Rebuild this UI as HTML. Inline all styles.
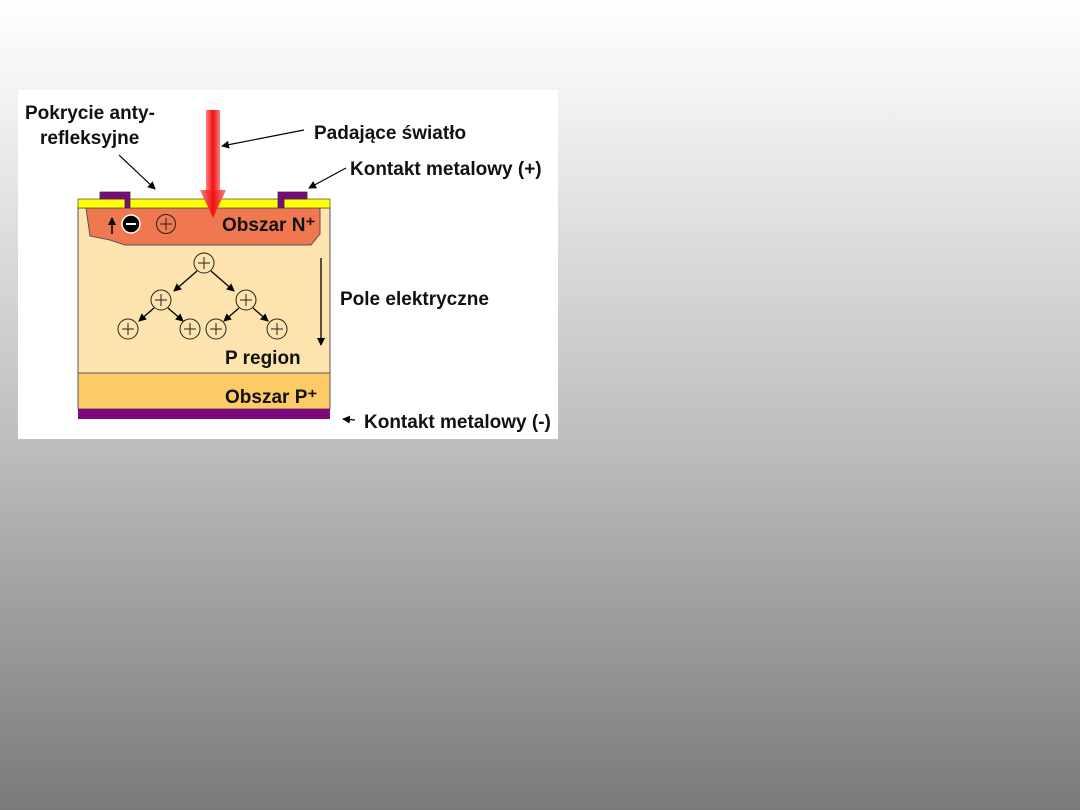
<!DOCTYPE html>
<html><head><meta charset="utf-8"><style>
html,body{margin:0;padding:0;}
body{width:1080px;height:810px;background:linear-gradient(#ffffff 0%,#f2f2f2 12%,#bdbdbd 55%,#7a7a7a 100%);overflow:hidden;}
svg{position:absolute;left:0;top:0;}
text{font-family:"Liberation Sans",Arial,sans-serif;font-weight:bold;fill:#111;}
</style></head><body>
<svg width="1080" height="810" viewBox="0 0 1080 810">
<defs>
<marker id="ah" markerWidth="8" markerHeight="8" refX="7" refY="4" orient="auto" markerUnits="userSpaceOnUse"><path d="M0,0 L8,4 L0,8 z" fill="#000"/></marker>
<linearGradient id="red" x1="0" x2="1"><stop offset="0" stop-color="#ff8080"/><stop offset="0.5" stop-color="#ee1111"/><stop offset="1" stop-color="#ff8080"/></linearGradient>
</defs>
<rect x="18" y="90" width="540" height="349" fill="#fff"/>
<rect x="78" y="208" width="252" height="165" fill="#fde3ae" stroke="#555" stroke-width="1"/>
<rect x="78" y="373" width="252" height="36" fill="#fdcb66" stroke="#555" stroke-width="1"/>
<rect x="78" y="409" width="252" height="10" fill="#7d0a7d"/>
<path d="M86,208 L320,208 L320,234 L311,245 L125,245 L110,240 L90,236 Z" fill="#f07850" stroke="#555" stroke-width="1"/>
<rect x="78" y="199" width="252" height="9" fill="#ffff00" stroke="#555" stroke-width="0.8"/>
<path d="M100,192 L130,192 L130,208 L125,208 L125,199 L100,199 Z" fill="#7d0a7d" stroke="#333" stroke-width="0.8"/>
<path d="M278,192 L307,192 L307,199 L284,199 L284,208 L278,208 Z" fill="#7d0a7d" stroke="#333" stroke-width="0.8"/>
<rect x="206" y="110" width="14" height="82" fill="url(#red)"/>
<path d="M200,190 L226,190 L213,218 Z" fill="url(#red)"/>
<line x1="112" y1="234" x2="112" y2="218" stroke="#000" stroke-width="1.5" marker-end="url(#ah)"/>
<circle cx="131" cy="224" r="9" fill="#000" stroke="#fff" stroke-width="1.5"/>
<line x1="126" y1="224" x2="136" y2="224" stroke="#fff" stroke-width="2"/>
<circle cx="166" cy="224" r="9.5" fill="none" stroke="#222" stroke-width="1"/>
<path d="M160,224 h12 M166,218 v12" stroke="#222" stroke-width="1"/>
<text x="222" y="231" font-size="19">Obszar N⁺</text>
<g stroke="#000" stroke-width="1.3" marker-end="url(#ah)">
<line x1="197" y1="271" x2="174" y2="291"/>
<line x1="211" y1="271" x2="234" y2="291"/>
<line x1="154" y1="308" x2="139" y2="321"/>
<line x1="168" y1="308" x2="183" y2="321"/>
<line x1="239" y1="308" x2="224" y2="321"/>
<line x1="253" y1="308" x2="268" y2="321"/>
</g>
<g fill="#fde3ae" stroke="#222" stroke-width="1">
<circle cx="204" cy="263" r="10"/><circle cx="161" cy="300" r="10"/><circle cx="246" cy="300" r="10"/>
<circle cx="128" cy="329" r="10"/><circle cx="190" cy="329" r="10"/><circle cx="216" cy="329" r="10"/><circle cx="277" cy="329" r="10"/>
</g>
<path d="M198,263h12M204,257v12 M155,300h12M161,294v12 M240,300h12M246,294v12 M122,329h12M128,323v12 M184,329h12M190,323v12 M210,329h12M216,323v12 M271,329h12M277,323v12" stroke="#222" stroke-width="1"/>
<line x1="321" y1="258" x2="321" y2="345" stroke="#000" stroke-width="1.3" marker-end="url(#ah)"/>
<text x="225" y="364" font-size="19">P region</text>
<text x="225" y="403" font-size="19">Obszar P⁺</text>
<text x="25" y="119" font-size="19">Pokrycie anty-</text>
<text x="40" y="144" font-size="19">refleksyjne</text>
<line x1="119" y1="155" x2="155" y2="189" stroke="#000" stroke-width="1.2" marker-end="url(#ah)"/>
<text x="314" y="139" font-size="19">Padające światło</text>
<line x1="304" y1="130" x2="222" y2="146" stroke="#000" stroke-width="1.2" marker-end="url(#ah)"/>
<text x="350" y="175" font-size="19">Kontakt metalowy (+)</text>
<line x1="346" y1="168" x2="309" y2="188" stroke="#000" stroke-width="1.2" marker-end="url(#ah)"/>
<text x="340" y="305" font-size="19">Pole elektryczne</text>
<text x="364" y="428" font-size="19">Kontakt metalowy (-)</text>
<line x1="355" y1="420" x2="343" y2="419" stroke="#000" stroke-width="1.2" marker-end="url(#ah)"/>
</svg>
</body></html>
